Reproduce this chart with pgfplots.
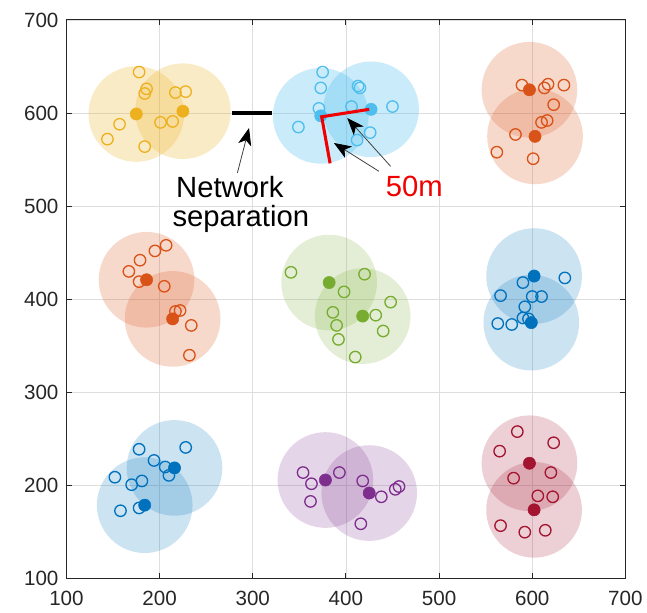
\documentclass[border=0pt]{standalone}
\usepackage{pgfplots}
\pgfplotsset{compat=1.18}
\usepackage{fontspec}
\setmainfont{Liberation Sans}
\usetikzlibrary{arrows.meta}
\definecolor{cY}{HTML}{EDB120}
\definecolor{cO}{HTML}{D95319}
\definecolor{cLB}{HTML}{4DBEEE}
\definecolor{cG}{HTML}{77AC30}
\definecolor{cB}{HTML}{0072BD}
\definecolor{cP}{HTML}{7E2F8E}
\definecolor{cR}{HTML}{A2142F}
\definecolor{axc}{HTML}{262626}
\definecolor{cRed}{HTML}{F00000}
\newcommand\grp[4]{%
  \addplot[only marks, mark=*, mark size=36pt, color=#1, mark options={color=#1, fill=#1, fill opacity=#4, draw opacity=0}] coordinates {#2};
  \addplot[only marks, mark=o, mark size=4.3pt, color=#1, mark options={color=#1, line width=1pt}] coordinates {#3};
  \addplot[only marks, mark=*, mark size=4.6pt, color=#1, mark options={color=#1, fill=#1}] coordinates {#2};
}
\begin{document}
\begin{tikzpicture}
\begin{axis}[
  set layers,
  scale only axis, width=420.6pt, height=420.5pt,
  xmin=100, xmax=700, ymin=100, ymax=700,
  clip=false,
  xtick={100,200,...,700}, ytick={100,200,...,700},
  grid=major, grid style={color=black!13, line width=0.5pt},
  axis line style={color=axc, line width=0.8pt},
  tick style={color=axc, line width=0.8pt},
  tick align=inside, major tick length=4pt,
  ticklabel style={font=\fontsize{15.5}{18}\selectfont, text=axc},
  /pgf/number format/assume math mode=true,
  xticklabel style={yshift=-6pt},
  yticklabel style={xshift=-2.5pt},
]
\grp{cY}{(175,599) (225,602)}{(178,644) (186,626) (184,621) (217,622) (228,623) (157,588) (144,572) (201,590) (214,591) (184,564)}{0.25}
\grp{cLB}{(373,597) (427,604)}{(375,644) (373,627) (413,629) (415,627) (371,605) (406,607) (450,607) (349,585) (426,579) (412,571)}{0.3}
\grp{cO}{(597,625) (603,575)}{(589,630) (613,627) (617,631) (634,630) (623,609) (610,590) (616,592) (582,577) (562,558) (601,551)}{0.22}
\grp{cO}{(186,421) (214,379)}{(207,458) (195,452) (179,442) (167,430) (178,419) (205,414) (217,387) (222,388) (234,372) (232,340)}{0.22}
\grp{cG}{(382,418) (418,382)}{(341,429) (420,427) (398,408) (448,397) (386,386) (432,383) (390,372) (440,366) (392,357) (410,338)}{0.2}
\grp{cB}{(602,425) (599,375)}{(635,423) (590,418) (566,404) (600,403) (610,403) (592,392) (590,380) (596,379) (563,374) (578,373)}{0.2}
\grp{cB}{(216,219) (184,179)}{(178,239) (228,241) (194,227) (206,220) (210,211) (152,209) (170,201) (181,205) (178,176) (158,173)}{0.2}
\grp{cP}{(378,206) (425,192)}{(354,214) (363,202) (393,214) (362,183) (418,205) (438,188) (453,196) (457,199) (416,159)}{0.2}
\grp{cR}{(597,224) (602,174)}{(584,258) (623,246) (565,237) (620,214) (580,208) (606,189) (622,188) (566,157) (592,150) (614,152)}{0.2}
% network separation line
\addplot[black, line width=3.5pt, on layer=axis foreground] coordinates {(278,600) (321,600)};
% 50m radius lines
\addplot[cRed, line width=2.3pt, on layer=axis foreground] coordinates {(383,546) (374,596) (425,604)};
% annotations
\begin{pgfonlayer}{axis foreground}
\draw[black!75, line width=0.6pt, -{Stealth[length=13pt, width=10pt, inset=3.5pt, black]}] (axis cs:283.5,535.7) -- (axis cs:296,584);
\draw[black!75, line width=0.6pt, -{Stealth[length=13pt, width=10pt, inset=3.5pt, black]}] (axis cs:435.4,537.5) -- (axis cs:387.1,567.9);
\draw[black!75, line width=0.6pt, -{Stealth[length=13pt, width=10pt, inset=3.5pt, black]}] (axis cs:447.9,542.9) -- (axis cs:401.4,594.7);
\node[anchor=base west, inner sep=0pt, font=\fontsize{22}{26}\selectfont] at (axis cs:217.5,509) {Network};
\node[anchor=base west, inner sep=0pt, font=\fontsize{22}{26}\selectfont] at (axis cs:213.6,478.2) {separation};
\node[anchor=base west, inner sep=0pt, font=\fontsize{22}{26}\selectfont, text=cRed] at (axis cs:442.5,510) {50m};
\end{pgfonlayer}
\end{axis}
\path ([xshift=-50pt,yshift=-25.7pt]current axis.south west) rectangle ([xshift=14.6pt,yshift=15pt]current axis.north east);
\end{tikzpicture}
\end{document}
